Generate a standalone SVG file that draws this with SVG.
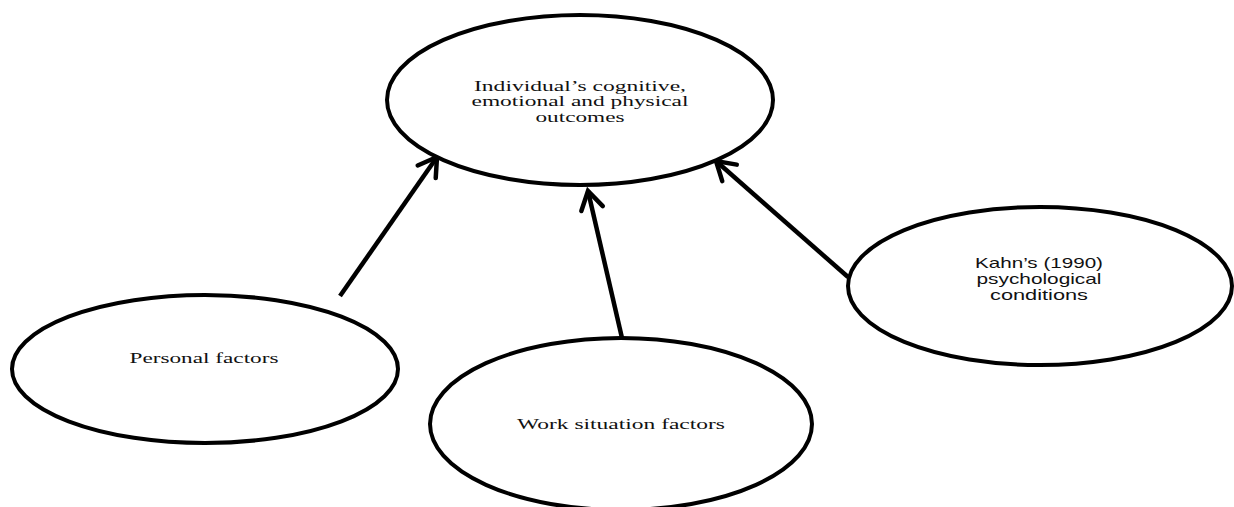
<svg xmlns="http://www.w3.org/2000/svg" width="1234" height="507" viewBox="0 0 1234 507">
<defs>
<style>
.node ellipse{fill:#fff;stroke:#000;stroke-width:4}
.serif{font-family:"Liberation Serif","Times New Roman",serif;font-size:15px;fill:#111;text-anchor:middle}
.sans{font-family:"Liberation Sans",Arial,sans-serif;font-size:14.5px;fill:#111;text-anchor:middle}
.conn{stroke:#000;stroke-width:4.5;fill:none;marker-end:url(#arr)}
</style>
<marker id="arr" markerUnits="userSpaceOnUse" markerWidth="30" markerHeight="30" refX="0" refY="0" viewBox="-22 -15 26 30" orient="auto">
<path d="M-18,-11 L0,0 L-18,11" fill="none" stroke="#000" stroke-width="4.5" stroke-linecap="round" stroke-linejoin="miter"/>
</marker>
</defs>
<rect width="1234" height="507" fill="#fff"/>
<g id="connectors">
<line class="conn" x1="340" y1="296" x2="437" y2="157"/>
<line class="conn" x1="622" y1="338" x2="588" y2="191"/>
<line class="conn" x1="848" y1="277" x2="716" y2="161"/>
</g>
<g id="n-outcomes" class="node">
<ellipse cx="580" cy="100" rx="193" ry="85"/>
<text class="serif" x="580" y="91" textLength="212" lengthAdjust="spacingAndGlyphs">Individual’s cognitive,</text>
<text class="serif" x="580" y="106" textLength="217" lengthAdjust="spacingAndGlyphs">emotional and physical</text>
<text class="serif" x="580" y="122" textLength="89" lengthAdjust="spacingAndGlyphs">outcomes</text>
</g>
<g id="n-personal" class="node">
<ellipse cx="205" cy="369" rx="193" ry="74"/>
<text class="serif" x="204" y="363" textLength="149" lengthAdjust="spacingAndGlyphs">Personal factors</text>
</g>
<g id="n-work" class="node">
<ellipse cx="621" cy="424" rx="191" ry="86"/>
<text class="serif" x="621" y="429" textLength="208" lengthAdjust="spacingAndGlyphs">Work situation factors</text>
</g>
<g id="n-kahn" class="node">
<ellipse cx="1040" cy="286" rx="192" ry="79"/>
<text class="sans" x="1039" y="268" textLength="128" lengthAdjust="spacingAndGlyphs">Kahn’s (1990)</text>
<text class="sans" x="1039" y="284" textLength="125" lengthAdjust="spacingAndGlyphs">psychological</text>
<text class="sans" x="1039" y="300" textLength="98" lengthAdjust="spacingAndGlyphs">conditions</text>
</g>
</svg>
